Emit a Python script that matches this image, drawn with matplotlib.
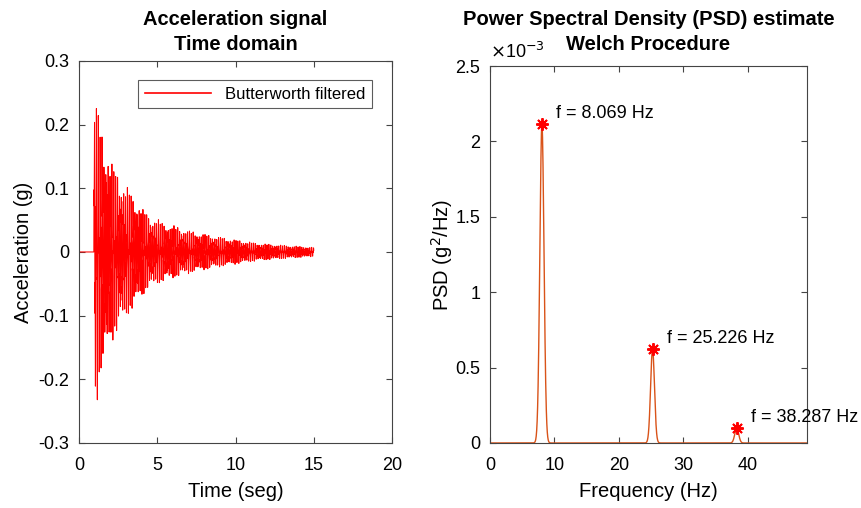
import numpy as np
import matplotlib.pyplot as plt
from matplotlib.ticker import FuncFormatter, MultipleLocator

plt.rcParams["font.family"] = ["Liberation Sans", "DejaVu Sans"]
plt.rcParams["axes.unicode_minus"] = False

# time signal: envelope (s, g)
ENV_T = [0.95, 1.05, 1.4, 2.0, 2.7, 3.7, 4.4, 5.5, 7.3, 9.4, 11.5, 15.0]
ENV_UP = [0.24, 0.24, 0.19, 0.14, 0.112, 0.078, 0.057, 0.044, 0.031, 0.021, 0.013, 0.007]
SIG_START = 0.95
SIG_END = 15.0
FS = 200.0

# PSD peaks
PEAK_F = [8.069, 25.226, 38.287]
PEAK_P = [2.115e-3, 0.622e-3, 0.100e-3]
PEAK_W = [0.32, 0.30, 0.30]  # Hz, half width of each peak
PEAK_LABELS = ["f = 8.069 Hz", "f = 25.226 Hz", "f = 38.287 Hz"]
F_MAX = 49.15

# time signal built from read envelope and the annotated mode frequencies
t = np.arange(0, SIG_END + 1 / FS, 1 / FS)
weights = (np.array(PEAK_P) / PEAK_P[0]) ** 0.75
weights = weights / weights.sum()
phases = [0.0, 1.3, 2.1]
carrier = sum(w * np.sin(2 * np.pi * f * (t - SIG_START) + p)
              for w, f, p in zip(weights, PEAK_F, phases))
on = t >= SIG_START
env = np.interp(t, ENV_T, ENV_UP)
norm = carrier[on][: int(FS / 2)].max()
acc = np.where(on, env * carrier / norm, 0.0)

f = np.linspace(0, F_MAX, 2000)
psd = sum(p * np.exp(-0.5 * ((f - fc) / w) ** 2)
          for fc, p, w in zip(PEAK_F, PEAK_P, PEAK_W))

fig = plt.figure(figsize=(8.61, 5.08), dpi=100)
ax1 = fig.add_axes([0.0918, 0.128, 0.3635, 0.752])
ax2 = fig.add_axes([0.569, 0.128, 0.368, 0.742])

ax1.plot(t, acc, color="#FF0000", linewidth=0.75, label="Butterworth filtered")
ax1.set_xlim(0, 20)
ax1.set_ylim(-0.3, 0.3)
ax1.xaxis.set_major_locator(MultipleLocator(5))
ax1.yaxis.set_major_locator(MultipleLocator(0.1))
ax1.yaxis.set_major_formatter(FuncFormatter(
    lambda v, p: f"{v:.1f}".rstrip("0").rstrip(".") if abs(v) > 1e-9 else "0"))
ax1.set_xlabel("Time (seg)", fontsize=14.5, labelpad=6)
ax1.set_ylabel("Acceleration (g)", fontsize=14.5, labelpad=4)
fig.text(0.2735, 1 - 32 / 508, "Acceleration signal\nTime domain", fontsize=14.5,
         fontweight="bold", linespacing=1.4, ha="center", va="center")
leg = ax1.legend(loc="upper right", bbox_to_anchor=(0.935, 0.95), borderaxespad=0,
                 fontsize=12, fancybox=False, edgecolor="#333333", handlelength=4.0)
leg.get_frame().set_linewidth(0.8)
leg.get_lines()[0].set_linewidth(1.2)

ax2.plot(f, psd, color="#D95319", linewidth=1.0)
ax2.plot(PEAK_F, PEAK_P, linestyle="none", marker=(8, 2, 0), color="#FF0000",
         markersize=9, markeredgewidth=1.4)
for fc, p, lab in zip(PEAK_F, PEAK_P, PEAK_LABELS):
    ax2.text(fc + 2.2, p + 0.07e-3, lab, fontsize=13, va="center", ha="left")
ax2.set_xlim(0, F_MAX)
ax2.set_ylim(0, 2.5e-3)
ax2.xaxis.set_major_locator(MultipleLocator(10))
ax2.yaxis.set_major_locator(MultipleLocator(0.5e-3))
ax2.yaxis.set_major_formatter(FuncFormatter(lambda v, p: f"{v * 1e3:g}"))
ax2.text(0.0, 1.012, r"$\times$10$^{-3}$", transform=ax2.transAxes, fontsize=13,
         ha="left", va="bottom")
ax2.set_xlabel("Frequency (Hz)", fontsize=14.5, labelpad=6)
ax2.set_ylabel("PSD (g$^2$/Hz)", fontsize=14.5, labelpad=0)
fig.text(0.7532, 1 - 32 / 508, "Power Spectral Density (PSD) estimate\nWelch Procedure",
         fontsize=14.5, fontweight="bold", linespacing=1.4, ha="center", va="center")

for ax in (ax1, ax2):
    ax.tick_params(direction="in", top=True, right=True, labelsize=13, length=4,
                   color="#444444", width=0.8)
    ax.tick_params(axis="x", pad=10)
    ax.tick_params(axis="y", pad=7)
    for s in ax.spines.values():
        s.set_color("#444444")
        s.set_linewidth(0.8)

plt.savefig("out.png", dpi=100)
